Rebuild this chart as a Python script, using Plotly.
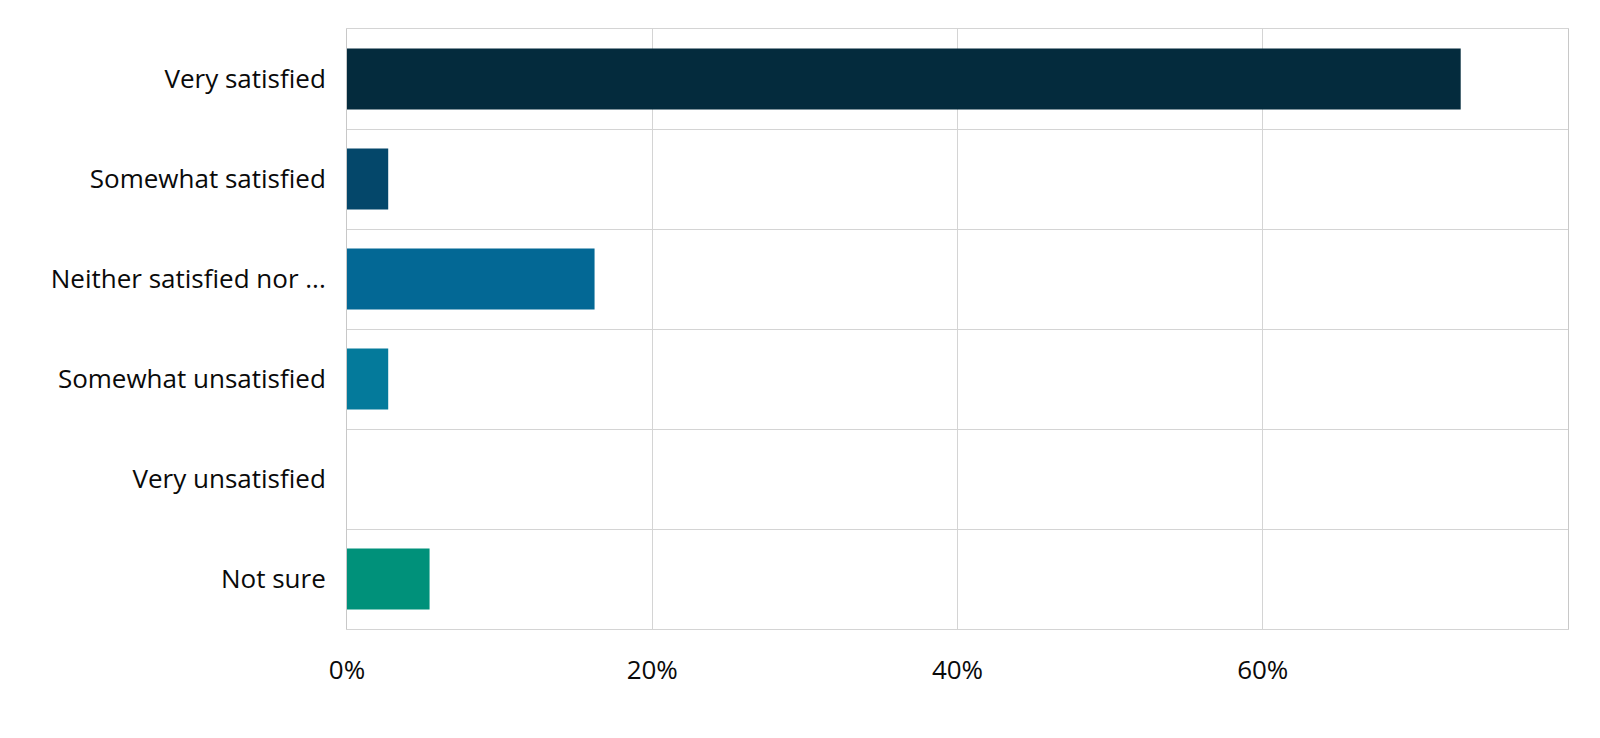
import plotly.graph_objects as go

categories = ["Very satisfied", "Somewhat satisfied", "Neither satisfied nor ...",
              "Somewhat unsatisfied", "Very unsatisfied", "Not sure"]
values = [0.7297, 0.0270, 0.1622, 0.0270, 0.0, 0.0541]
colors = ["#042b3d", "#04476a", "#036895", "#047a9b", "#047a9b", "#00917a"]
tick_vals = [0, 0.2, 0.4, 0.6]
tick_text = ["0%", "20%", "40%", "60%"]

fig = go.Figure(go.Bar(
    y=categories, x=values, orientation="h",
    marker=dict(color=colors, line=dict(width=0)),
    hoverinfo="x+y",
))

font_family = "Open Sans, Noto Sans, sans-serif"
fig.update_layout(
    width=1600, height=738,
    margin=dict(l=347, r=32, t=29, b=109),
    paper_bgcolor="white", plot_bgcolor="white",
    bargap=0.39,
    showlegend=False,
    font=dict(family=font_family, size=26, color="#0a0a0a"),
)
fig.update_xaxes(
    range=[0, 0.8], tickvals=tick_vals, ticktext=tick_text,
    showgrid=True, gridcolor="#d4d4d4", gridwidth=1,
    showline=True, linecolor="#d4d4d4", linewidth=1, mirror=True,
    zeroline=False, ticks="", ticklabelstandoff=18,
    tickfont=dict(size=26),
)
fig.update_yaxes(
    categoryorder="array", categoryarray=categories, autorange="reversed",
    tickson="boundaries", showgrid=True, gridcolor="#d4d4d4", gridwidth=1,
    showline=True, linecolor="#c8c8c8", linewidth=1, mirror=True,
    ticks="", ticklabelstandoff=15, tickfont=dict(size=26),
)

fig.write_html("out.html")
